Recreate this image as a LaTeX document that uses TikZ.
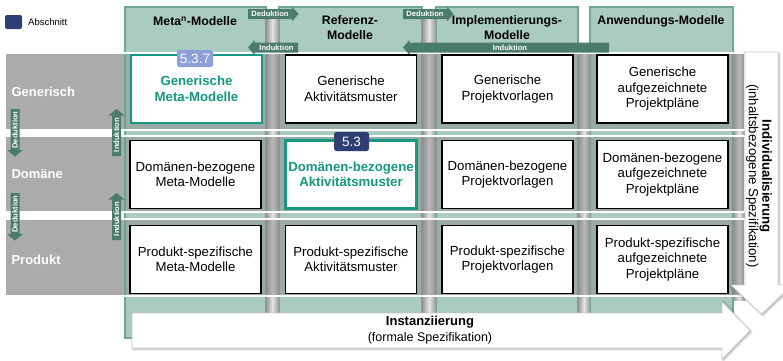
\documentclass[tikz,border=0pt]{standalone}
\usepackage{fontspec}
\setmainfont{Liberation Sans}
\usetikzlibrary{shadows.blur}

\definecolor{colfill}{HTML}{AACBBF}
\definecolor{colline}{HTML}{6FA794}
\definecolor{arrowgreen}{HTML}{4B7C6B}
\definecolor{hiteal}{HTML}{16977F}
\definecolor{navy}{HTML}{2E3F74}
\definecolor{lilac}{HTML}{8E9FD8}
\definecolor{bandgray}{HTML}{ABABAB}

\tikzset{
  column/.style={fill=colfill, draw=colline, line width=1.2pt},
  pillar/.style={left color=black!42, right color=black!42, middle color=black!10},
  bandleft/.style={fill=bandgray},
  bandover/.style={fill=black!45, fill opacity=0.5},
  bandedge/.style={draw=white, line width=1.5pt},
  cellbox/.style={draw=black, line width=1.8pt, fill=white,
    minimum width=131pt, minimum height=68pt, align=center, inner sep=1pt,
    font=\fontsize{13.2}{15.5}\selectfont},
  hicell/.style={cellbox, draw=hiteal, line width=2.8pt, text=hiteal,
    font=\bfseries\fontsize{13.2}{15.5}\selectfont},
  badge/.style={rounded corners=2.5pt, text=white, inner sep=0pt,
    font=\fontsize{13.5}{14}\selectfont},
  header/.style={align=center, font=\bfseries\fontsize{12.3}{15}\selectfont},
  rowlabel/.style={anchor=west, text=white, font=\bfseries\fontsize{13}{15}\selectfont},
  arrowshape/.style={fill=arrowgreen},
  arrowtext/.style={text=white, inner sep=0pt, font=\bfseries\fontsize{7.6}{8}\selectfont},
  bigarrow/.style={fill=white, draw=black!18, line width=0.8pt,
    blur shadow={shadow xshift=1.2pt, shadow yshift=-1.2pt, shadow opacity=35}},
  bigtext/.style={align=center, inner sep=0pt}
}

\begin{document}
\begin{tikzpicture}[x=1pt, y=-1pt]
\useasboundingbox (0,0) rectangle (783,360);

% legend
\node[fill=navy, rounded corners=2pt, minimum width=17pt, minimum height=14pt, inner sep=0pt] (legbox) at (13.5,22) {};
\node[anchor=west, inner sep=0pt, font=\fontsize{9.5}{11}\selectfont] (legtext) at (28,22) {Abschnitt};

% left part of the row bands (opaque)
\foreach \t/\b in {53/130, 136/212, 219/296}
  \fill[bandleft] (5,\t) rectangle (125,\b);

% model columns
\foreach \l/\r in {125/266, 279/422, 436/578, 590/733}
  \draw[column] (\l,7) rectangle (\r,338);

% grey pillars between the columns
\shade[pillar] (266,12) rectangle (279,313);
\shade[pillar] (422,12) rectangle (436,313);
\shade[pillar] (578,53) rectangle (590,313);
\shade[pillar] (733,53) rectangle (745,300);

% translucent part of the row bands and their white edges
\foreach \t/\b in {53/130, 136/212, 219/296} {
  \fill[bandover] (125,\t) rectangle (745,\b);
  \draw[bandedge] (5,\t) rectangle (745,\b);
}

% column headers
\node[header] (h1) at (195,21) {Meta\textsuperscript{n}-Modelle};
\node[header] (h2) at (350,28) {Referenz-\\Modelle};
\node[header] (h3) at (507,28) {Implementierungs-\\Modelle};
\node[header] (h4) at (661,21) {Anwendungs-Modelle};

% horizontal deduction / induction arrows
\fill[arrowshape] (248,9) -- (292,9) -- (292,6.5) -- (298.5,14) -- (292,21.5) -- (292,19) -- (248,19) -- cycle;
\node[arrowtext] (ded1) at (270,14) {Deduktion};
\fill[arrowshape] (403,9) -- (447,9) -- (447,6.5) -- (453.5,14) -- (447,21.5) -- (447,19) -- (403,19) -- cycle;
\node[arrowtext] (ded2) at (425,14) {Deduktion};
\fill[arrowshape] (248,47.5) -- (254.5,40) -- (254.5,42.5) -- (298,42.5) -- (298,52.5) -- (254.5,52.5) -- (254.5,55) -- cycle;
\node[arrowtext] (ind1) at (276.5,47.5) {Induktion};
\fill[arrowshape] (403,47.5) -- (409.5,40) -- (409.5,42.5) -- (609,42.5) -- (609,52.5) -- (409.5,52.5) -- (409.5,55) -- cycle;
\node[arrowtext] (ind2) at (510,47.5) {Induktion};

% row labels
\node[rowlabel] (r1) at (8,92) {Generisch};
\node[rowlabel] (r2) at (8,174) {Domäne};
\node[rowlabel] (r3) at (8,260) {Produkt};

% vertical deduction / induction arrows
\foreach \dy/\n in {0/a, 84/b} {
  \fill[arrowshape] (10.5,109+\dy) -- (19.5,109+\dy) -- (19.5,150+\dy) -- (23,150+\dy)
     -- (15,156.5+\dy) -- (7,150+\dy) -- (10.5,150+\dy) -- cycle;
  \node[arrowtext, rotate=90] (vded\n) at (15,130+\dy) {Deduktion};
  \fill[arrowshape] (116.5,109+\dy) -- (124.5,115.5+\dy) -- (121,115.5+\dy) -- (121,156+\dy)
     -- (112,156+\dy) -- (112,115.5+\dy) -- (108.5,115.5+\dy) -- cycle;
  \node[arrowtext, rotate=90] (vind\n) at (116.5,135+\dy) {Induktion};
}

% cells
\node[hicell]   (c11) at (196.5,89)  {Generische\\Meta-Modelle};
\node[cellbox]  (c12) at (351,89)    {Generische\\Aktivitätsmuster};
\node[cellbox]  (c13) at (507.5,89)  {Generische\\Projektvorlagen};
\node[cellbox]  (c14) at (662.5,89)  {Generische\\aufgezeichnete\\Projektpläne};

\node[cellbox]  (c21) at (195.5,174.5) {Domänen-bezogene\\Meta-Modelle};
\node[hicell]   (c22) at (351,174.5)   {Domänen-bezogene\\Aktivitätsmuster};
\node[cellbox]  (c23) at (507.5,174.5) {Domänen-bezogene\\Projektvorlagen};
\node[cellbox]  (c24) at (662.5,174.5) {Domänen-bezogene\\aufgezeichnete\\Projektpläne};

\node[cellbox]  (c31) at (195.5,259.5) {Produkt-spezifische\\Meta-Modelle};
\node[cellbox]  (c32) at (351,259.5)   {Produkt-spezifische\\Aktivitätsmuster};
\node[cellbox]  (c33) at (507.5,259.5) {Produkt-spezifische\\Projektvorlagen};
\node[cellbox]  (c34) at (662.5,259.5) {Produkt-spezifische\\aufgezeichnete\\Projektpläne};

% section badges
\node[badge, fill=lilac, minimum width=36pt, minimum height=17pt] (b537) at (195,58.5) {5.3.7};
\node[badge, fill=navy, minimum width=35pt, minimum height=19pt] (b53) at (351.5,141.5) {5.3};

% instantiation arrow
\path[bigarrow] (132,313) -- (722,313) -- (722,302) -- (750,330.5) -- (722,359) -- (722,348) -- (132,348) -- cycle;
\node[bigtext, font=\bfseries\fontsize{13}{16}\selectfont] (inst) at (430,322) {Instanziierung};
\node[bigtext, font=\fontsize{12.5}{16}\selectfont] (instsub) at (430,338) {(formale Spezifikation)};

% individualisation arrow
\path[bigarrow] (745,52) -- (778,52) -- (778,285) -- (792,285) -- (761.5,314) -- (731,285) -- (745,285) -- cycle;
\node[bigtext, rotate=-90, font=\fontsize{13.2}{13.5}\selectfont] (indiv) at (759,176)
  {\textbf{Individualisierung}\\(inhaltsbezogene Spezifikation)};

\end{tikzpicture}
\end{document}
